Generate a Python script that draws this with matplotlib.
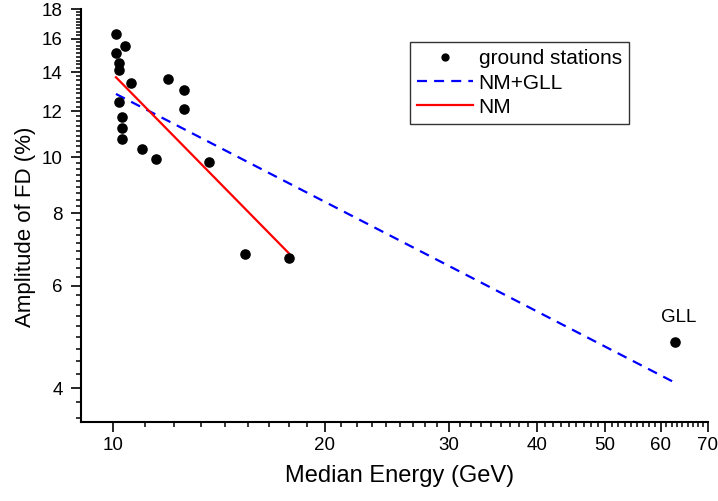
import matplotlib
matplotlib.use('Agg')
import matplotlib.pyplot as plt
import numpy as np
from matplotlib.ticker import FixedLocator, FixedFormatter, NullFormatter

plt.rcParams['font.family'] = ['Liberation Sans', 'DejaVu Sans']

# ---- data ----
station_energy = [10.10, 10.41, 10.10, 10.20, 10.20, 10.60, 11.99, 12.60, 12.60,
                  10.20, 10.30, 10.30, 10.30, 10.99, 11.50, 13.69, 15.39, 17.78]
station_amp = [16.33, 15.54, 15.13, 14.54, 14.13, 13.43, 13.63, 13.03, 12.11,
               12.43, 11.72, 11.21, 10.73, 10.33, 9.92, 9.82, 6.81, 6.71]
gll_energy = [62.85]
gll_amp = [4.80]
fit_nm_gll_energy = [10.10, 62.30]
fit_nm_gll_amp = [12.85, 4.11]
fit_nm_energy = [10.10, 17.78]
fit_nm_amp = [13.73, 6.83]

x_ticks = [10, 20, 30, 40, 50, 60, 70]
x_tick_labels = ['10', '20', '30', '40', '50', '60', '70']
y_ticks = [4, 6, 8, 10, 12, 14, 16, 18]
y_tick_labels = ['4', '6', '8', '10', '12', '14', '16', '18']
x_range = (9, 70)
y_range = (3.5, 18)


def linear_minors(majors, lo, hi, n=8):
    out = []
    step = (majors[1] - majors[0]) / (n + 1)
    v = majors[0] - step
    while v >= lo:
        out.append(v)
        v -= step
    for a, b in zip(majors[:-1], majors[1:]):
        s = (b - a) / (n + 1)
        out.extend(a + s * k for k in range(1, n + 1))
    return out


fig = plt.figure(figsize=(7.18, 5.01), dpi=100)
ax = fig.add_axes([80.7 / 718, 79.3 / 501, 627 / 718, 412.7 / 501])
ax.set_xscale('log')
ax.set_yscale('log')

ax.plot(station_energy, station_amp, 'o', color='black', markersize=6.6,
        linestyle='none', label='ground stations', zorder=3)
ax.plot(gll_energy, gll_amp, 'o', color='black', markersize=6.6,
        linestyle='none', zorder=3)
ax.plot(fit_nm_gll_energy, fit_nm_gll_amp, color='#0000ff', lw=1.6,
        dashes=(4.5, 3.2), label='NM+GLL', zorder=2)
ax.plot(fit_nm_energy, fit_nm_amp, color='#ff0000', lw=1.6,
        label='NM', zorder=2)

ax.annotate('GLL', (gll_energy[0], gll_amp[0]), xytext=(3, 18),
            textcoords='offset points', ha='center', va='center', fontsize=13.5)

ax.set_xlim(*x_range)
ax.set_ylim(*y_range)

ax.xaxis.set_major_locator(FixedLocator(x_ticks))
ax.xaxis.set_major_formatter(FixedFormatter(x_tick_labels))
ax.xaxis.set_minor_locator(FixedLocator(linear_minors(x_ticks, 10, 70)))
ax.xaxis.set_minor_formatter(NullFormatter())
ax.yaxis.set_major_locator(FixedLocator(y_ticks))
ax.yaxis.set_major_formatter(FixedFormatter(y_tick_labels))
ax.yaxis.set_minor_locator(FixedLocator(linear_minors(y_ticks, y_range[0], 18)))
ax.yaxis.set_minor_formatter(NullFormatter())

for s in ['top', 'right']:
    ax.spines[s].set_visible(False)
for s in ['left', 'bottom']:
    ax.spines[s].set_linewidth(1.5)

ax.tick_params(which='major', direction='out', length=7, width=1.2,
               labelsize=13.5, pad=4)
ax.tick_params(axis='y', which='major', pad=6)
ax.tick_params(which='minor', direction='out', length=3.8, width=1.1)

ax.set_xlabel('Median Energy (GeV)', fontsize=17)
ax.set_ylabel('Amplitude of FD (%)', fontsize=16)
ax.xaxis.set_label_coords(0.509, -0.106)
ax.yaxis.set_label_coords(-0.072, 0.472)

leg = ax.legend(loc='upper left', bbox_to_anchor=(0.525, 0.92), borderaxespad=0,
                fontsize=15, frameon=True, fancybox=False, edgecolor='black',
                handlelength=2.7, handletextpad=0.25, labelspacing=0.25,
                borderpad=0.35, markerscale=0.75)
leg.get_frame().set_linewidth(1.0)

fig.savefig('out.png', dpi=100)
